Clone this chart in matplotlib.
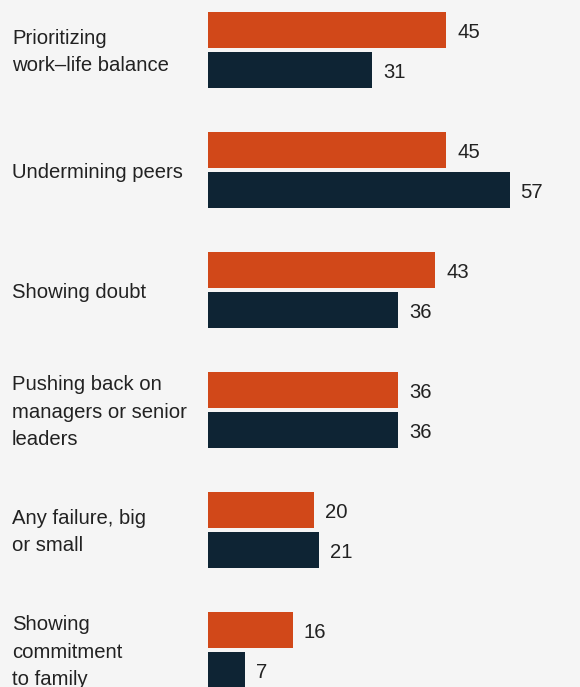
import matplotlib.pyplot as plt

categories = [
    "Prioritizing\nwork\u2013life balance",
    "Undermining peers",
    "Showing doubt",
    "Pushing back on\nmanagers or senior\nleaders",
    "Any failure, big\nor small",
    "Showing\ncommitment\nto family",
]
orange_vals = [45, 45, 43, 36, 20, 16]
navy_vals = [31, 57, 36, 36, 21, 7]

ORANGE = "#d14819"
NAVY = "#0e2434"
BG = "#f5f5f5"
TXT = "#222222"

plt.rcParams['font.family'] = ['Liberation Sans', 'DejaVu Sans']

W, H = 580, 687
fig = plt.figure(figsize=(W / 100, H / 100), dpi=100, facecolor=BG)
ax = fig.add_axes([208 / W, 0, 1 - 208 / W, 1])
ax.set_facecolor(BG)

px_per_unit = 5.29
ax.set_xlim(0, (W - 208) / px_per_unit)
ax.set_ylim(H, 0)

step = 120
bar_h = 36.5
fs = 14.6
for i, (a, b) in enumerate(zip(orange_vals, navy_vals)):
    y_top = 30 + step * i
    y_bot = 70 + step * i
    ax.barh(y_top, a, height=bar_h, color=ORANGE, edgecolor="none")
    ax.barh(y_bot, b, height=bar_h, color=NAVY, edgecolor="none")
    ax.text(a + 11 / px_per_unit, y_top + 2.5, str(a), ha="left", va="center",
            fontsize=fs, color=TXT)
    ax.text(b + 11 / px_per_unit, y_bot + 2.5, str(b), ha="left", va="center",
            fontsize=fs, color=TXT)
    fig.text(12 / W, 1 - (52 + step * i) / H, categories[i], ha="left",
             va="center", fontsize=fs, color=TXT, linespacing=1.56)

ax.axis("off")
fig.savefig("out.png", dpi=100, facecolor=BG)
